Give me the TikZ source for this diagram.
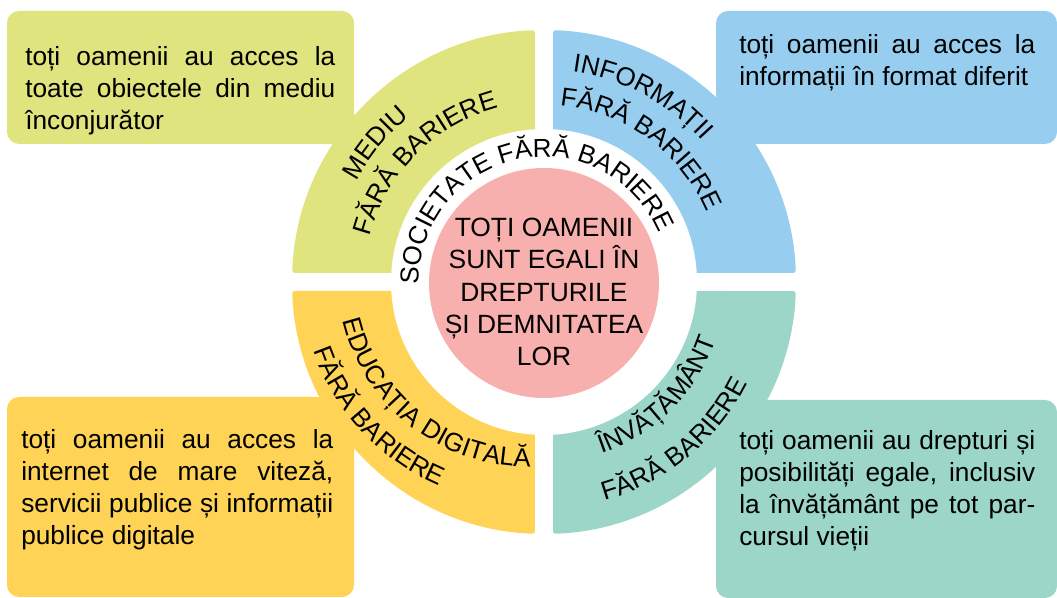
\documentclass[tikz,border=0pt]{standalone}
\usepackage{fontspec}
\setmainfont{Liberation Sans}
\usetikzlibrary{decorations.text}
\definecolor{cgreen}{RGB}{223,228,126}
\definecolor{cblue}{RGB}{151,206,240}
\definecolor{cyellow}{RGB}{254,211,86}
\definecolor{cteal}{RGB}{155,214,200}
\definecolor{cpink}{RGB}{247,176,174}
\newcommand{\lblfont}{\fontsize{19.5}{23.8}\selectfont}
\newcommand{\ctrfont}{\fontsize{19.8}{24.3}\selectfont}
\newcommand{\boxfont}{\fontsize{19.7}{24}\selectfont}
\begin{document}
\begin{tikzpicture}[x=0.75pt,y=0.75pt,
  infobox/.style={rounded corners=9pt},
  quad/.style={rounded corners=2pt},
  boxtext/.style={anchor=base west, inner sep=0pt, font=\boxfont},
  arctext/.style={decorate, decoration={text along path, text align=center, text={|\lblfont|#1}}}]
\useasboundingbox (0,0) rectangle (1057,598);
% side boxes
\fill[cgreen, infobox] (7,454) rectangle (354,587);
\fill[cblue, infobox] (716,454) rectangle (1057,587);
\fill[cyellow, infobox] (7,1) rectangle (354,201);
\fill[cteal, infobox] (716,0) rectangle (1057,198);
% quadrants
\fill[cgreen, quad] (535,325) -- (535,567.84) arc[start angle=92.05, end angle=177.95, radius=252] -- cycle;
\fill[cblue, quad] (553,325) -- (795.84,325) arc[start angle=2.05, end angle=87.95, radius=252] -- cycle;
\fill[cyellow, quad] (535,307) -- (292.16,307) arc[start angle=182.05, end angle=267.95, radius=252] -- cycle;
\fill[cteal, quad] (553,307) -- (553,64.16) arc[start angle=272.05, end angle=357.95, radius=252] -- cycle;
% inner disks
\fill[white] (544,316) circle (153);
\fill[cpink] (544,315) circle (115);
% box texts
\node[boxtext] (gtxt) at (25,532) {\parbox[t]{232.5pt}{toți oamenii au acces la\linebreak toate obiectele din mediu\linebreak înconjurător}};
\node[boxtext] (btxt) at (739,544) {\parbox[t]{222pt}{toți oamenii au acces la\linebreak informații în format diferit}};
\node[boxtext] (ytxt) at (21,149) {\parbox[t]{234pt}{toți oamenii au acces la\linebreak internet de mare viteză,\linebreak servicii publice și informații\linebreak publice digitale}};
\node[boxtext] (ttxt) at (739,148) {\parbox[t]{222pt}{toți oamenii au drepturi și\linebreak posibilități egale, inclusiv\linebreak la învățământ pe tot par-\linebreak cursul vieții}};
% centre text
\node[align=center, font=\ctrfont, inner sep=0pt] (ctr) at (544,306) {TOȚI OAMENII\\SUNT EGALI ÎN\\DREPTURILE\\ȘI DEMNITATEA\\LOR};
% ring text
\path[arctext={SOCIETATE FĂRĂ BARIERE}] ([shift={(544,316)}]202:125) arc[start angle=202, end angle=2, radius=125];
% quadrant labels
\path[arctext={MEDIU}] ([shift={(544,316)}]200.5:213) arc[start angle=200.5, end angle=80.5, radius=213];
\path[arctext={FĂRĂ BARIERE}] ([shift={(544,316)}]195:180) arc[start angle=195, end angle=75, radius=180];
\path[arctext={INFORMAȚII}] ([shift={(544,316)}]122:212) arc[start angle=122, end angle=2, radius=212];
\path[arctext={FĂRĂ BARIERE}] ([shift={(544,316)}]114:177) arc[start angle=114, end angle=-6, radius=177];
\path[arctext={EDUCAȚIA DIGITALĂ}] ([shift={(528,321)}]132:190) arc[start angle=132, end angle=332, radius=190];
\path[arctext={FĂRĂ BARIERE}] ([shift={(528,321)}]123:227) arc[start angle=123, end angle=323, radius=227];
\path[arctext={ÎNVĂȚĂMÂNT}] ([shift={(544,316)}]215:181) arc[start angle=215, end angle=415, radius=181];
\path[arctext={FĂRĂ BARIERE}] ([shift={(544,316)}]209.5:227) arc[start angle=209.5, end angle=409.5, radius=227];
\end{tikzpicture}
\end{document}
